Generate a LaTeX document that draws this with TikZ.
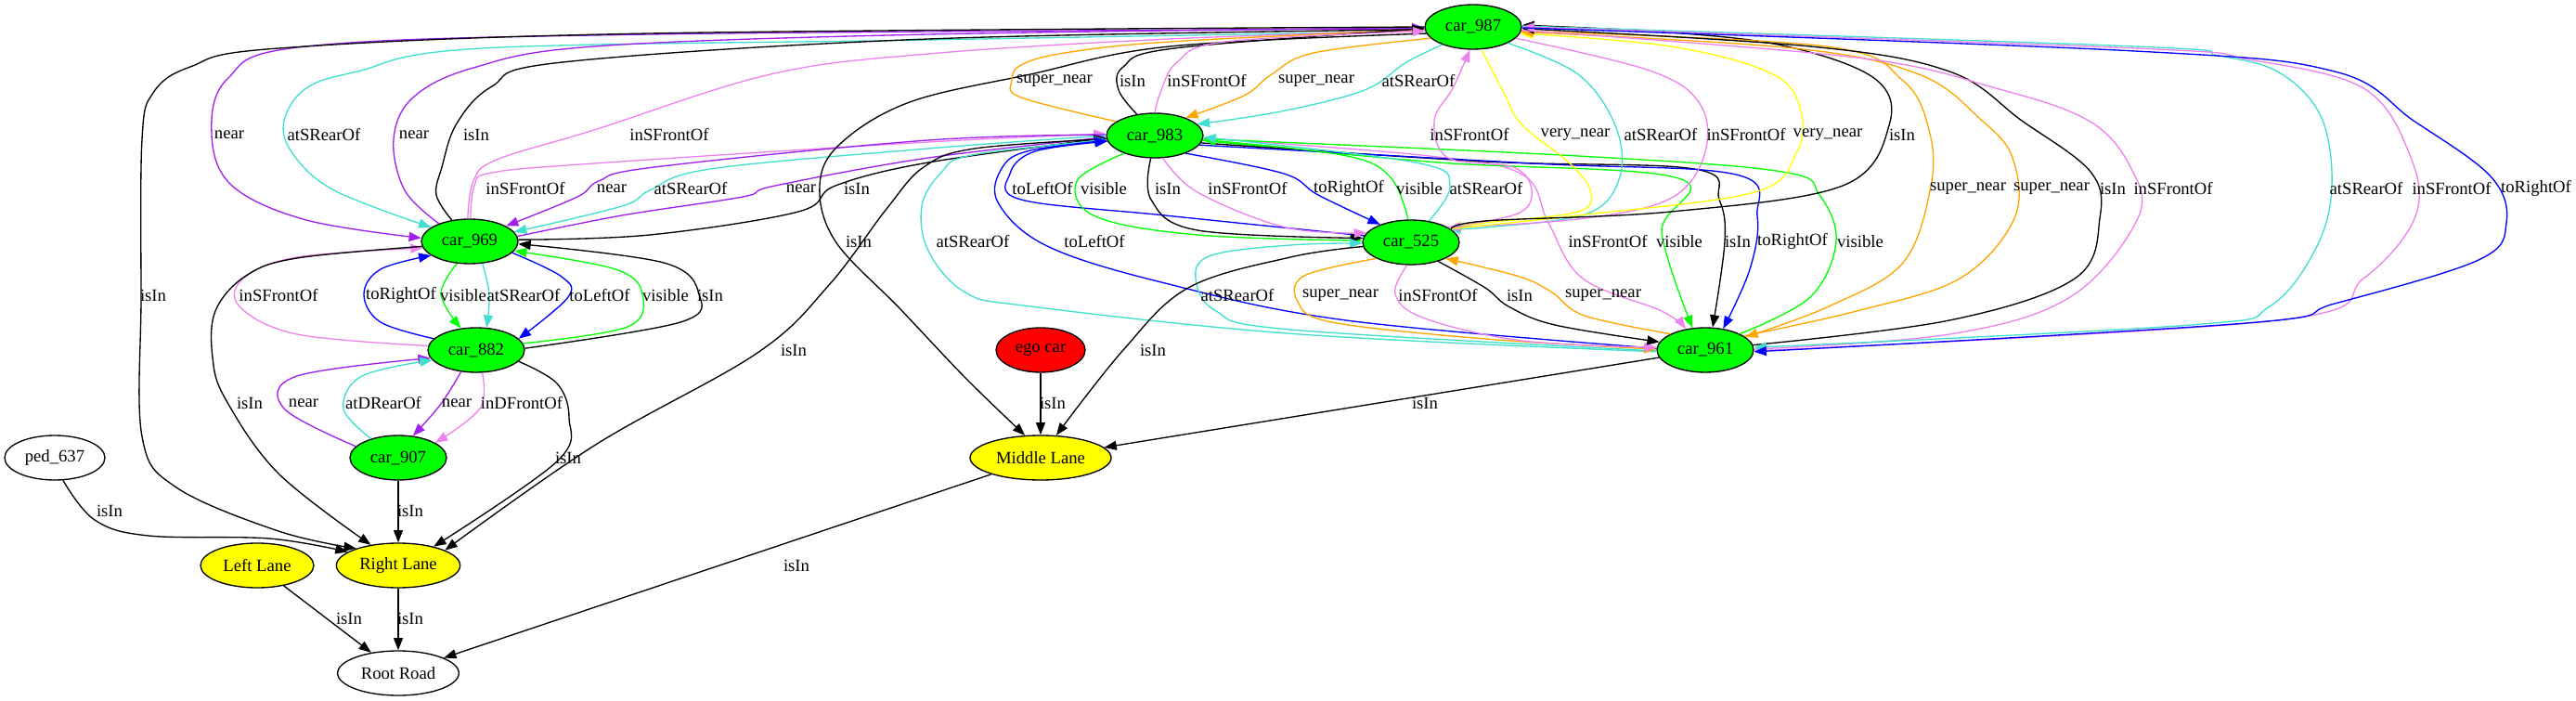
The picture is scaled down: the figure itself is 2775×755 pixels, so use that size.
\documentclass[tikz,border=0pt]{standalone}
\usepackage{fontspec}
\setmainfont{Liberation Serif}
\usetikzlibrary{shapes.geometric,arrows.meta}
\definecolor{cPurple}{HTML}{A020F0}
\definecolor{cViolet}{HTML}{EE82EE}
\definecolor{cTurq}{HTML}{40E0D0}
\definecolor{cGreen}{HTML}{00FF00}
\definecolor{cBlue}{HTML}{0000FF}
\definecolor{cOrange}{HTML}{FFA500}
\definecolor{cYellow}{HTML}{FFFF00}
\definecolor{cRed}{HTML}{FF0000}
\newcounter{elab}
\newcommand{\edg}[4]{\stepcounter{elab}%
  \draw[conn,color=#1] plot[smooth,tension=0.6] coordinates {#4};%
  \node[lab] (lab\arabic{elab}) at (#3) {#2};}
\newcommand{\edgS}[4]{\stepcounter{elab}%
  \draw[conn] (#3) -- (#4);%
  \node[lab] (lab\arabic{elab}) at (#2) {#1};}
\tikzset{
  x=0.75pt, y=-0.75pt,
  every node/.style={font=\fontsize{14pt}{16pt}\selectfont},
  nd/.style={ellipse, draw=black, line width=1pt, inner sep=0pt, minimum height=36pt},
  car/.style={nd, fill=cGreen, minimum width=78pt},
  conn/.style={line width=1pt, -{Triangle[length=10pt,width=7.5pt]}},
  lab/.style={inner sep=0pt},
}
\begin{document}
\begin{tikzpicture}
\useasboundingbox (0,0) rectangle (2775,755);
% nodes
\node[car] (a987) at (1587,29) {car\_987};
\node[car] (a983) at (1244,146) {car\_983};
\node[car] (a525) at (1520,261) {car\_525};
\node[car] (a961) at (1837,377) {car\_961};
\node[car] (a969) at (506,260) {car\_969};
\node[car] (a882) at (513,377) {car\_882};
\node[car] (a907) at (429,493) {car\_907};
\node[nd, fill=white, minimum width=81pt] (ped) at (59,493) {ped\_637};
\node[nd, fill=cYellow, minimum width=91.5pt] (LL) at (277,609) {Left Lane};
\node[nd, fill=cYellow, minimum width=100pt] (RL) at (429,609) {Right Lane};
\node[nd, fill=white, minimum width=98pt] (RR) at (429,725) {Root Road};
\node[nd, fill=cRed, minimum width=72pt] (ego) at (1121,377) {ego car};
\node[nd, fill=cYellow, minimum width=114pt] (ML) at (1121,493) {Middle Lane};

% 987 <-> 969
\edg{cPurple}{near}{247,145}{(a987.182) (700,37) (330,50) (245,85) (228,145) (250,200) (330,237) (a969.176)}
\edg{cTurq}{atSRearOf}{349,145}{(a987.185) (1000,43) (520,52) (385,77) (330,95) (306,130) (315,165) (360,205) (a969.160)}
\edg{cPurple}{near}{446,145}{(a969.150) (436,205) (424,150) (445,105) (510,73) (640,50) (1000,37) (a987.181)}
\edg{black}{isIn}{513,145}{(a969.130) (470,210) (476,180) (492,133) (530,93) (606,67) (1000,42) (a987.183)}
\edg{cViolet}{inSFrontOf}{721,145}{(a969.95) (510,195) (535,172) (640,140) (830,80) (1000,58) (1260,42) (a987.184)}
\edg{black}{isIn}{165,318}{(a987.180) (700,36) (300,52) (205,72) (165,100) (153,150) (152,320) (153,470) (190,525) (300,572) (RL.158)}

% 969 <-> 983
\edg{cViolet}{inSFrontOf}{566,203}{(a969.88) (511,200) (530,186) (640,176) (1000,153) (a983.178)}
\edg{cPurple}{near}{659,203}{(a983.179) (1000,151) (705,180) (645,195) (622,212) (a969.23)}
\edg{cTurq}{atSRearOf}{744,203}{(a983.180) (1000,160) (765,182) (700,205) (670,222) (a969.12)}
\edg{cPurple}{near}{863,203}{(a969.6) (670,232) (800,212) (835,200) (1000,170) (a983.182)}
\edg{black}{isIn}{923,203}{(a969.2) (700,253) (860,228) (900,200) (1000,175) (a983.183)}
\edg{black}{isIn}{925,260}{(a987.188) (1260,50) (1110,80) (980,110) (905,155) (883,200) (900,260) (970,333) (1040,407) (ML.125)}
\edg{black}{isIn}{855,377}{(a983.184) (1050,160) (995,180) (955,225) (893,307) (816,380) (640,480) (RL.18)}

% 983 <-> 987
\edg{cOrange}{super\_near}{1136,87}{(a983.160) (1100,105) (1090,87) (1100,70) (1147,57) (1260,45) (a987.183)}
\edg{black}{isIn}{1220,87}{(a983.130) (1205,97) (1210,72) (1265,52) (a987.182)}
\edg{cViolet}{inSFrontOf}{1300,87}{(a983.90) (1250,100) (1268,67) (1320,45) (a987.185)}
\edg{cOrange}{super\_near}{1418,87}{(a987.195) (1415,57) (1370,80) (1340,103) (a983.30)}
\edg{cTurq}{atSRearOf}{1528,87}{(a987.210) (1515,67) (1470,97) (1380,120) (a983.15)}

% 983 <-> 961
\edg{cViolet}{inSFrontOf}{1732,260}{(a983.-3) (1540,168) (1640,188) (1668,240) (1705,300) (1790,335) (a961.133)}
\edg{cGreen}{visible}{1809,260}{(a983.-6) (1550,175) (1808,192) (1790,250) (a961.120)}
\edg{black}{isIn}{1872,260}{(a983.-9) (1600,174) (1825,182) (1852,215) (1858,260) (a961.72)}
\edg{cBlue}{toRightOf}{1931,260}{(a983.-12) (1650,176) (1870,188) (1893,233) (1885,290) (a961.50)}
\edg{cGreen}{visible}{2004,260}{(a961.25) (1950,320) (1978,260) (1960,210) (1920,185) (1700,168) (a983.-4)}
\edg{cTurq}{atSRearOf}{1048,260}{(a961.182) (1400,360) (1110,330) (1040,315) (1000,270) (993,222) (1013,187) (1047,167) (a983.185)}
\edg{cBlue}{toLeftOf}{1179,260}{(a961.178) (1450,345) (1255,305) (1128,265) (1075,218) (1080,180) (1110,162) (a983.186)}
\edg{cBlue}{toLeftOf}{1123,203}{(a525.172) (1255,232) (1100,215) (1088,187) (1115,163) (a983.187)}

% 983 <-> 525
\edg{cGreen}{visible}{1189,203}{(a983.-150) (1160,195) (1180,233) (1290,253) (a525.178)}
\edg{black}{isIn}{1258,203}{(a983.-100) (1240,215) (1290,248) (a525.175)}
\edg{cViolet}{inSFrontOf}{1344,203}{(a983.-70) (1290,207) (1385,245) (a525.168)}
\edg{cBlue}{toRightOf}{1453,203}{(a983.-30) (1383,187) (1420,210) (a525.150)}
\edg{cGreen}{visible}{1529,203}{(a525.97) (1497,190) (1446,167) (a983.-5)}
\edg{cTurq}{atSRearOf}{1601,203}{(a525.50) (1562,200) (1525,175) (a983.-2)}

% 987 <-> 525
\edg{cViolet}{inSFrontOf}{1583,145}{(a525.22) (1635,230) (1650,205) (1630,180) (1560,170) (1545,130) (1565,95) (a987.-98)}
\edg{cYellow}{very\_near}{1697,145}{(a987.-70) (1620,100) (1640,135) (1690,175) (1713,205) (1700,228) (1600,240) (a525.20)}
\edg{cTurq}{atSRearOf}{1789,145}{(a987.-25) (1700,80) (1740,135) (1745,190) (1710,230) (1600,245) (a525.21)}
\edg{cViolet}{inSFrontOf}{1881,145}{(a987.-15) (1780,77) (1833,115) (1835,170) (1797,215) (1700,236) (a525.22)}
\edg{cYellow}{very\_near}{1969,145}{(a525.19) (1700,232) (1890,207) (1935,165) (1940,120) (1910,80) (1800,50) (a987.-8)}
\edg{black}{isIn}{2049,145}{(a525.18) (1600,238) (1800,228) (1985,200) (2035,135) (2020,85) (1925,50) (1800,35) (a987.2)}

% 987 <-> 961
\edg{cOrange}{super\_near}{2120,203}{(a987.-5) (1967,50) (2050,87) (2078,140) (2080,200) (2050,283) (1970,330) (a961.18)}
\edg{cOrange}{super\_near}{2210,203}{(a961.20) (2000,335) (2111,300) (2170,235) (2168,170) (2133,128) (2067,80) (1933,52) (a987.-6)}
\edg{black}{isIn}{2276,203}{(a961.6) (2100,345) (2235,300) (2262,235) (2252,185) (2178,130) (2100,77) (1950,50) (a987.-2)}
\edg{cViolet}{inSFrontOf}{2341,203}{(a987.-4) (2000,62) (2150,95) (2250,130) (2295,180) (2303,235) (2230,320) (2100,360) (a961.1)}
\edg{cTurq}{atSRearOf}{2549,203}{(a987.1) (2300,50) (2390,60) (2455,78) (2500,125) (2512,200) (2495,267) (2445,330) (2360,350) (a961.3)}
\edg{cViolet}{inSFrontOf}{2641,203}{(a961.-1) (2453,345) (2546,300) (2602,233) (2596,167) (2546,95) (2422,64) (2300,52) (a987.0)}
\edg{cBlue}{toRightOf}{2732,203}{(a987.-1) (2300,55) (2515,77) (2600,130) (2683,190) (2700,240) (2670,280) (2515,327) (2420,348) (a961.-2)}

% 525 <-> 961
\edg{cTurq}{atSRearOf}{1333,318}{(a961.181) (1390,355) (1310,335) (1288,300) (1305,275) (1390,264) (a525.181)}
\edg{cOrange}{super\_near}{1444,318}{(a525.-155) (1405,297) (1398,325) (1435,347) (1600,365) (a961.179)}
\edg{cViolet}{inSFrontOf}{1549,318}{(a525.-100) (1503,317) (1535,343) (1640,367) (a961.177)}
\edg{black}{isIn}{1637,318}{(a525.-35) (1600,310) (1625,330) (1675,350) (a961.170)}
\edg{cOrange}{super\_near}{1727,318}{(a961.155) (1707,340) (1672,315) (1637,298) (a525.-25)}

% Middle Lane
\edg{black}{isIn}{1242,377}{(a525.-175) (1390,277) (1280,310) (1210,377) (ML.55)}
\edgS{isIn}{1134,434}{ego}{ML}
\edgS{isIn}{1535,434}{a961}{ML}
\edgS{isIn}{858,609}{ML}{RR}

% 969 <-> 882
\edg{cViolet}{inSFrontOf}{300,318}{(a882.175) (320,360) (258,330) (262,300) (320,277) (a969.188)}
\edg{black}{isIn}{269,434}{(a969.186) (320,278) (265,297) (232,335) (229,385) (243,430) (300,510) (RL.143)}
\edg{cBlue}{toRightOf}{432,318}{(a882.165) (410,347) (392,317) (410,290) (a969.200)}
\edg{cGreen}{visible}{499,318}{(a969.-120) (475,317) (a882.125)}
\edg{cTurq}{atSRearOf}{564,318}{(a969.-60) (527,317) (a882.65)}
\edg{cBlue}{toLeftOf}{646,318}{(a969.-15) (605,298) (612,320) (a882.15)}
\edg{cGreen}{visible}{717,318}{(a882.8) (676,352) (692,317) (663,290) (a969.-12)}
\edg{black}{isIn}{765,318}{(a882.2) (733,347) (753,317) (715,283) (a969.-3)}

% 882 <-> 907 and lanes
\edg{cPurple}{near}{327,434}{(a907.165) (306,440) (320,405) (a882.190)}
\edg{cTurq}{atDRearOf}{413,434}{(a907.145) (370,440) (390,405) (a882.193)}
\edg{cPurple}{near}{492,434}{(a882.-125) (475,435) (a907.56)}
\edg{cViolet}{inDFrontOf}{562,434}{(a882.-75) (517,440) (a907.22)}
\edg{black}{isIn}{612,493}{(a882.-15) (600,413) (613,450) (600,497) (RL.28)}
\edgS{isIn}{442,550}{a907}{RL}
\edg{black}{isIn}{118,550}{(ped.-70) (102,560) (160,577) (290,580) (RL.165)}
\edgS{isIn}{376,666}{LL}{RR}
\edgS{isIn}{442,666}{RL}{RR}
\end{tikzpicture}
\end{document}
